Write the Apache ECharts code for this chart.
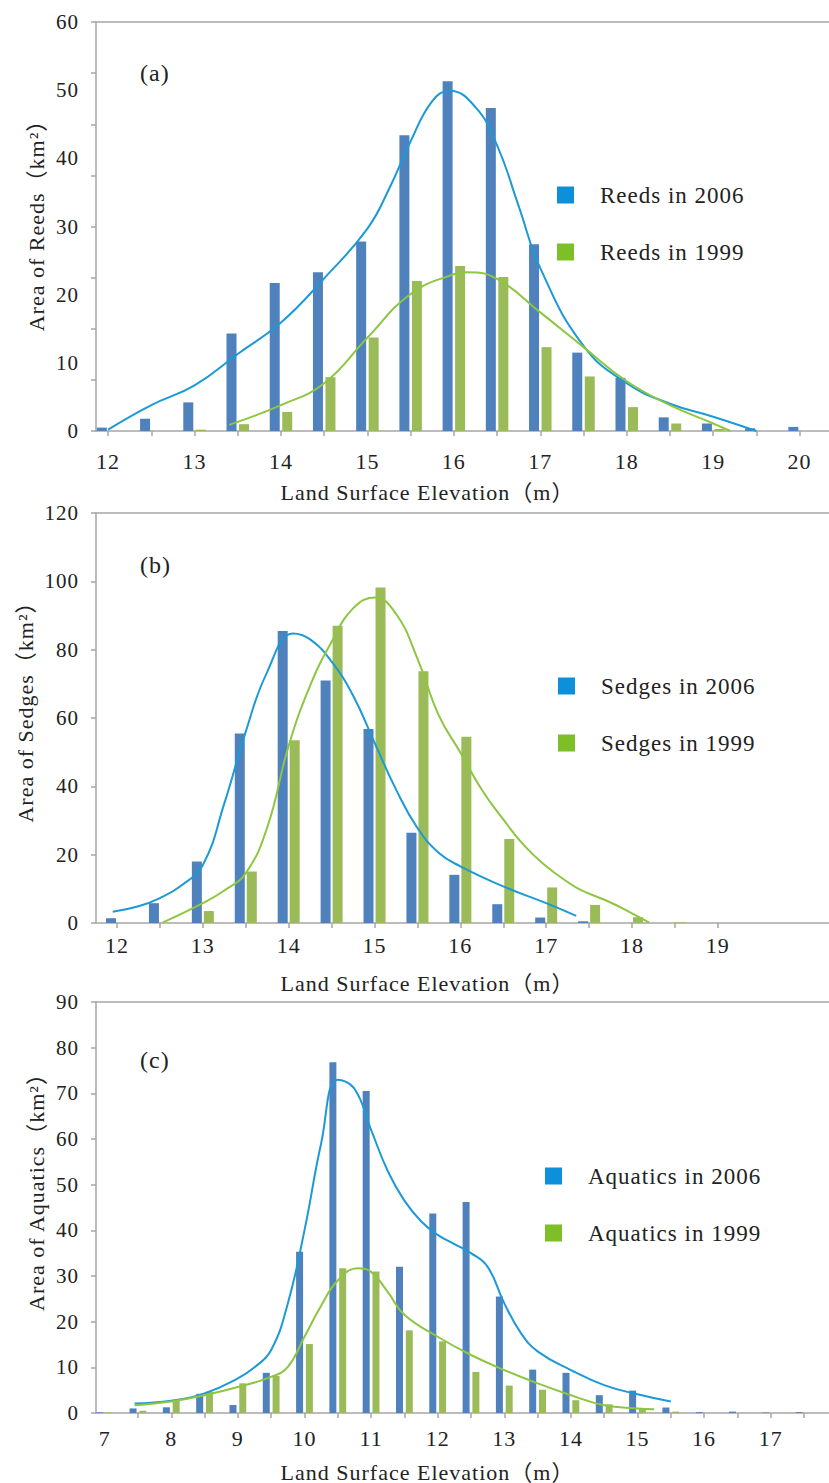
<!DOCTYPE html>
<html>
<head>
<meta charset="utf-8">
<script src="https://cdn.jsdelivr.net/npm/echarts@6/dist/echarts.min.js"></script>
<style>
html, body { margin: 0; padding: 0; background: #ffffff; }
#chart { width: 829px; height: 1483px; }
#chart text { letter-spacing: 1px; }
</style>
</head>
<body>
<div id="chart"></div>
<script>
// ---------- Panel (a): Reeds ----------
const reedsElev = [12, 12.5, 13, 13.5, 14, 14.5, 15, 15.5, 16, 16.5, 17, 17.5, 18, 18.5, 19, 19.5, 20];
const reeds2006 = [0.5, 1.8, 4.2, 14.3, 21.7, 23.3, 27.8, 43.4, 51.3, 47.4, 27.4, 11.5, 7.8, 2.0, 1.1, 0.4, 0.6];
const reeds1999 = [0, 0, 0.2, 1.0, 2.8, 7.9, 13.7, 22.0, 24.2, 22.6, 12.3, 8.0, 3.5, 1.1, 0.3, 0, 0];
const reeds2006CurveX = [12, 12.5, 13, 13.5, 14, 14.5, 15, 15.25, 15.5, 15.75, 15.95, 16.25, 16.5, 16.75, 17, 17.5, 18, 18.5, 19, 19.5];
const reeds2006CurveY = [0.2, 3.8, 6.7, 11.3, 15.9, 22.4, 29.7, 35.5, 42.5, 48.4, 49.9, 47.5, 41.9, 33.0, 23.9, 12.5, 7.0, 4.0, 2.1, 0];
const reeds1999CurveX = [13.4, 14, 14.5, 15, 15.5, 16, 16.15, 16.5, 17, 17.5, 18, 18.5, 19, 19.2];
const reeds1999CurveY = [0.9, 3.8, 7.0, 13.7, 20.1, 23.0, 23.3, 22.3, 17.4, 12.3, 7.3, 3.8, 1.1, 0];
const reedsTickValues = [12, 12.5, 13, 13.5, 14, 14.5, 15, 15.5, 16, 16.5, 17, 17.5, 18, 18.5, 19, 19.5, 20];
const reedsLabelValues = [12, 13, 14, 15, 16, 17, 18, 19, 20];
const reedsYTicks = [0, 7.5, 15, 22.5, 30, 37.5, 45, 52.5, 60];
const reedsYLabels = [0, 10, 20, 30, 40, 50, 60];

// ---------- Panel (b): Sedges ----------
const sedgesElev = [12, 12.5, 13, 13.5, 14, 14.5, 15, 15.5, 16, 16.5, 17, 17.5, 18, 18.5];
const sedges2006 = [1.4, 5.8, 18.0, 55.5, 85.5, 71.0, 56.8, 26.4, 14.1, 5.5, 1.6, 0.5, 0, 0];
const sedges1999 = [0, 0, 3.5, 15.1, 53.5, 87.0, 98.2, 73.7, 54.5, 24.6, 10.4, 5.3, 1.7, 0.2];
const sedges2006CurveX = [11.95, 12.25, 12.5, 12.75, 13, 13.25, 13.5, 13.75, 14.05, 14.25, 14.5, 14.75, 15, 15.25, 15.5, 15.75, 16, 16.5, 17, 17.35];
const sedges2006CurveY = [3.3, 4.9, 7.3, 11.0, 17.0, 35.0, 56.0, 73.5, 84.7, 83.0, 76.5, 66.6, 52.8, 39.1, 27.8, 20.5, 16.6, 10.7, 5.8, 2.1];
const sedges1999CurveX = [12.53, 13, 13.25, 13.5, 13.75, 14, 14.25, 14.5, 14.75, 15, 15.25, 15.5, 15.75, 16, 16.25, 16.5, 16.75, 17, 17.25, 17.4, 17.75, 18, 18.2];
const sedges1999CurveY = [0.1, 5.8, 9.5, 14.6, 28.0, 51.9, 69.5, 82.3, 92.1, 95.3, 90.5, 77.4, 60.7, 49.9, 39.0, 30.3, 22.5, 16.6, 12.0, 9.7, 6.0, 2.8, 0.1];
const sedgesTickValues = [12, 12.5, 13, 13.5, 14, 14.5, 15, 15.5, 16, 16.5, 17, 17.5, 18, 18.5, 19];
const sedgesLabelValues = [12, 13, 14, 15, 16, 17, 18, 19];
const sedgesYTicks = [0, 20, 40, 60, 80, 100, 120];
const sedgesYLabels = [0, 20, 40, 60, 80, 100, 120];

// ---------- Panel (c): Aquatics ----------
const aquaticsElev = [7, 7.5, 8, 8.5, 9, 9.5, 10, 10.5, 11, 11.5, 12, 12.5, 13, 13.5, 14, 14.5, 15, 15.5, 16, 16.5, 17, 17.5];
const aquatics2006 = [0.15, 1.0, 1.25, 4.2, 1.75, 8.8, 35.3, 76.8, 70.5, 32.0, 43.7, 46.2, 25.5, 9.5, 8.8, 3.9, 4.9, 1.2, 0.2, 0.3, 0.1, 0.2];
const aquatics1999 = [0.1, 0.5, 2.8, 4.7, 6.5, 8.1, 15.1, 31.7, 31.0, 18.1, 15.7, 9.0, 6.0, 5.1, 2.8, 1.9, 1.0, 0.3, 0, 0, 0, 0];
const aquatics2006CurveX = [7.45, 8, 8.5, 9, 9.25, 9.5, 9.75, 10, 10.25, 10.5, 10.75, 11, 11.25, 11.5, 11.75, 12, 12.25, 12.5, 12.75, 13, 13.25, 13.5, 14, 14.5, 15, 15.5];
const aquatics2006CurveY = [2.1, 2.7, 4.3, 7.6, 10.0, 13.8, 24.0, 40.0, 59.0, 73.0, 71.0, 62.0, 53.0, 46.5, 42.0, 39.0, 37.0, 35.0, 32.0, 24.0, 17.5, 13.5, 9.4, 6.1, 4.1, 2.5];
const aquatics1999CurveX = [7.45, 8, 8.5, 9, 9.5, 9.75, 10, 10.25, 10.5, 10.8, 11, 11.25, 11.5, 12, 12.5, 13, 13.5, 14, 14.5, 15, 15.25];
const aquatics1999CurveY = [1.7, 2.5, 3.9, 5.7, 7.9, 10.1, 16.7, 23.5, 29.0, 31.7, 30.9, 26.5, 21.5, 16.7, 12.7, 9.4, 6.5, 3.9, 1.7, 1.0, 0.8];
const aquaticsTickValues = [7.5, 8, 8.5, 9, 9.5, 10, 10.5, 11, 11.5, 12, 12.5, 13, 13.5, 14, 14.5, 15, 15.5, 16, 16.5, 17, 17.5];
const aquaticsLabelValues = [7, 8, 9, 10, 11, 12, 13, 14, 15, 16, 17];
const aquaticsYTicks = [0, 10, 20, 30, 40, 50, 60, 70, 80, 90];
const aquaticsYLabels = [0, 10, 20, 30, 40, 50, 60, 70, 80, 90];

// ---------- Styling ----------
const FONT = "'Liberation Serif', 'Times New Roman', 'Noto Sans CJK SC', serif";
const TEXT = '#222222';
const AXIS = '#a6a6a6';
const BAR_2006 = '#4f81bd';
const BAR_1999 = '#9bbb59';
const LINE_2006 = '#1b9ad6';
const LINE_1999 = '#8dc63f';
const LEG_2006 = '#0e8fd9';
const LEG_1999 = '#7dbf26';

const zip = (xs, ys) => xs.map((x, i) => [x, ys[i]]);

const panels = [
  { top: 22, bottom: 1052, xmin: 11.86, xmax: 20.34, ymax: 60,
    ticks: reedsTickValues, labels: reedsLabelValues, yTicks: reedsYTicks, yLabels: reedsYLabels,
    labelMargin: 19, nameGap: 50, yName: 'Area of Reeds（km²）', yShift: 13,
    elev: reedsElev, v2006: reeds2006, v1999: reeds1999,
    c2006: zip(reeds2006CurveX, reeds2006CurveY), c1999: zip(reeds1999CurveX, reeds1999CurveY),
    n2006: 'Reeds in 2006', n1999: 'Reeds in 1999', barWidth: 10, barGap: '25%',
    legendLeft: 557, legendTop: 183, tag: '(a)', tagTop: 61 },
  { top: 513, bottom: 560, xmin: 11.755, xmax: 20.295, ymax: 120,
    ticks: sedgesTickValues, labels: sedgesLabelValues, yTicks: sedgesYTicks, yLabels: sedgesYLabels,
    labelMargin: 11, nameGap: 49, yName: 'Area of Sedges（km²）', yShift: 23,
    elev: sedgesElev, v2006: sedges2006, v1999: sedges1999,
    c2006: zip(sedges2006CurveX, sedges2006CurveY), c1999: zip(sedges1999CurveX, sedges1999CurveY),
    n2006: 'Sedges in 2006', n1999: 'Sedges in 1999', barWidth: 10, barGap: '20%',
    legendLeft: 558, legendTop: 674, tag: '(b)', tagTop: 553 },
  { top: 1002, bottom: 70, xmin: 6.87, xmax: 17.875, ymax: 90,
    ticks: aquaticsTickValues, labels: aquaticsLabelValues, yTicks: aquaticsYTicks, yLabels: aquaticsYLabels,
    labelMargin: 14, nameGap: 48, yName: 'Area of Aquatics（km²）', yShift: 42,
    elev: aquaticsElev, v2006: aquatics2006, v1999: aquatics1999,
    c2006: zip(aquatics2006CurveX, aquatics2006CurveY), c1999: zip(aquatics1999CurveX, aquatics1999CurveY),
    n2006: 'Aquatics in 2006', n1999: 'Aquatics in 1999', barWidth: 7, barGap: '40%',
    legendLeft: 545, legendTop: 1164, tag: '(c)', tagTop: 1048 }
];

const grid = [], xAxis = [], yAxis = [], series = [], legend = [], graphic = [];

panels.forEach((p, i) => {
  grid.push({ left: 96, right: 0, top: p.top, bottom: p.bottom, containLabel: false, outerBoundsMode: 'none' });
  // bottom axis
  xAxis.push({
    type: 'value', gridIndex: i, position: 'bottom', min: p.xmin, max: p.xmax,
    axisLine: { show: true, onZero: false, lineStyle: { color: AXIS, width: 1.5 } },
    axisTick: { show: true, inside: false, length: 5, customValues: p.ticks, lineStyle: { color: AXIS, width: 1.5 } },
    axisLabel: { show: true, customValues: p.labels, margin: p.labelMargin, fontSize: 22, fontFamily: FONT, color: TEXT,
                 formatter: v => String(v) },
    splitLine: { show: false },
    name: 'Land Surface Elevation（m）', nameLocation: 'middle', nameGap: p.nameGap,
    nameTextStyle: { fontSize: 22, fontFamily: FONT, color: TEXT, padding: [0, 70, 0, 0] }
  });
  // top border axis
  xAxis.push({
    type: 'value', gridIndex: i, position: 'top', min: p.xmin, max: p.xmax,
    axisLine: { show: true, onZero: false, lineStyle: { color: AXIS, width: 1.5 } },
    axisTick: { show: false }, axisLabel: { show: false }, splitLine: { show: false }
  });
  yAxis.push({
    type: 'value', gridIndex: i, min: 0, max: p.ymax,
    axisLine: { show: true, onZero: false, lineStyle: { color: AXIS, width: 1.5 } },
    axisTick: { show: true, inside: false, length: 5, customValues: p.yTicks, lineStyle: { color: AXIS, width: 1.5 } },
    axisLabel: { show: true, customValues: p.yLabels, margin: 17, fontSize: 21, fontFamily: FONT, color: TEXT,
                 formatter: v => String(v) },
    splitLine: { show: false },
    name: p.yName, nameLocation: 'middle', nameGap: 48,
    nameTextStyle: { fontSize: 22, fontFamily: FONT, color: TEXT, padding: [0, 0, 0, p.yShift] }
  });
  const xi = i * 2;
  series.push({
    type: 'bar', name: p.n2006, xAxisIndex: xi, yAxisIndex: i,
    barWidth: p.barWidth, barGap: p.barGap, itemStyle: { color: BAR_2006 },
    data: zip(p.elev, p.v2006)
  });
  series.push({
    type: 'bar', name: p.n1999, xAxisIndex: xi, yAxisIndex: i,
    barWidth: p.barWidth, barGap: p.barGap, itemStyle: { color: BAR_1999 },
    data: zip(p.elev, p.v1999)
  });
  series.push({
    type: 'line', name: p.n2006 + ' fitted curve', xAxisIndex: xi, yAxisIndex: i,
    smooth: 0.45, symbol: 'none', showSymbol: false, z: 5,
    lineStyle: { color: LINE_2006, width: 2 }, itemStyle: { color: LINE_2006 },
    data: p.c2006
  });
  series.push({
    type: 'line', name: p.n1999 + ' fitted curve', xAxisIndex: xi, yAxisIndex: i,
    smooth: 0.45, symbol: 'none', showSymbol: false, z: 5,
    lineStyle: { color: LINE_1999, width: 2 }, itemStyle: { color: LINE_1999 },
    data: p.c1999
  });
  legend.push({
    orient: 'vertical', left: p.legendLeft, top: p.legendTop, padding: 0,
    itemWidth: 17, itemHeight: 17, itemGap: 33, icon: 'rect', selectedMode: false,
    textStyle: { fontSize: 23, lineHeight: 24, fontFamily: FONT, color: TEXT, padding: [0, 0, 0, 21] },
    data: [
      { name: p.n2006, itemStyle: { color: LEG_2006 } },
      { name: p.n1999, itemStyle: { color: LEG_1999 } }
    ]
  });
  graphic.push({
    type: 'text', left: 140, top: p.tagTop,
    style: { text: p.tag, fontSize: 24, fontFamily: FONT, fill: TEXT }
  });
});

const chart = echarts.init(document.getElementById('chart'), null, { renderer: 'svg', width: 829, height: 1483 });
chart.setOption({
  animation: false,
  backgroundColor: '#ffffff',
  textStyle: { fontFamily: FONT },
  grid, xAxis, yAxis, series, legend, graphic
});
</script>
</body>
</html>
